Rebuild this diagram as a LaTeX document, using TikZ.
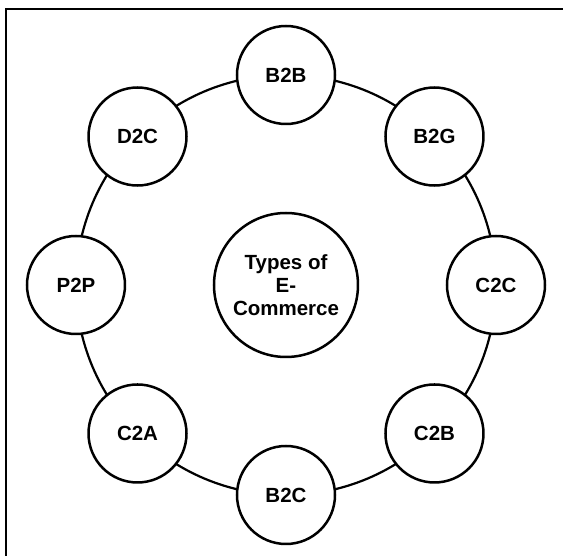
\documentclass[tikz,border=0pt]{standalone}
\usepackage{fontspec}
\setmainfont{Liberation Sans}
\usetikzlibrary{positioning}
\tikzset{
  etype/.style={circle, draw=black, line width=2.5pt, fill=white,
    minimum size=98pt, inner sep=0pt, font=\fontsize{20.5}{23}\selectfont\bfseries},
  hub/.style={circle, draw=black, line width=2.5pt, fill=white,
    minimum size=144pt, inner sep=0pt, align=center,
    font=\fontsize{20.5}{23}\selectfont\bfseries},
  ring/.style={draw=black, line width=2.2pt}
}

\begin{document}
\begin{tikzpicture}[x=1pt, y=1pt]
  \useasboundingbox (-286,-271) rectangle (277,285);
  \clip (-286,-271) rectangle (277,285);
  \draw[line width=2.8pt] (-280,-400) -- (-280,276) -- (400,276);
  %%
  \node[hub] (core) at (0,0) {Types of\\E-\\Commerce};
  \draw[ring] (core.center) circle[radius=210];
  %%
  \node[etype] (btob) at (90:210)  {B2B};
  \node[etype] (btog) at (45:210)  {B2G};
  \node[etype] (ctoc) at (0:210)   {C2C};
  \node[etype] (ctob) at (-45:210) {C2B};
  \node[etype] (btoc) at (-90:210) {B2C};
  \node[etype] (ctoa) at (-135:210) {C2A};
  \node[etype] (ptop) at (180:210) {P2P};
  \node[etype] (dtoc) at (135:210) {D2C};
\end{tikzpicture}
\end{document}
